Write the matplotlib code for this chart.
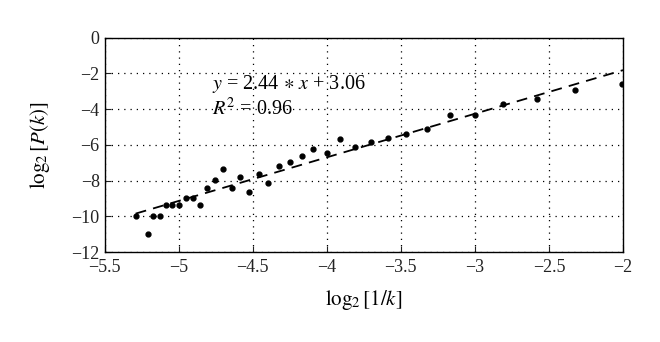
import matplotlib
matplotlib.use('Agg')
import numpy as np
import matplotlib.pyplot as plt

plt.rcParams['font.family'] = ['Liberation Serif', 'DejaVu Serif']
plt.rcParams['mathtext.fontset'] = 'stix'
plt.rcParams['font.size'] = 13

# points
x = [-5.288, -5.209, -5.171, -5.126, -5.086, -5.043, -4.998, -4.953, -4.906,
     -4.856, -4.807, -4.753, -4.699, -4.642, -4.586, -4.524, -4.460, -4.395,
     -4.321, -4.249, -4.168, -4.092, -4.001, -3.912, -3.810, -3.704, -3.586,
     -3.462, -3.322, -3.169, -3.001, -2.810, -2.584, -2.324, -2.004]
y = [-10.0, -10.98, -10.0, -10.0, -9.39, -9.39, -9.39, -8.97, -8.97,
     -9.37, -8.40, -7.95, -7.38, -8.40, -7.78, -8.64, -7.62, -8.16,
     -7.17, -6.95, -6.65, -6.26, -6.43, -5.66, -6.11, -5.83, -5.63,
     -5.40, -5.11, -4.31, -4.34, -3.69, -3.43, -2.95, -2.58]

slope = 2.44
intercept = 3.06
fit_x = [-5.29, -2.0]

fig = plt.figure(figsize=(6.6, 3.42), dpi=100)
ax = fig.add_axes([0.1585, 0.263, 0.7855, 0.627])

ax.plot(x, y, 'k.', markersize=7)
fx = np.array(fit_x)
ax.plot(fx, slope * fx + intercept, 'k--', linewidth=1.3, dashes=(6, 4))

ax.set_xlim(-5.5, -2)
ax.set_ylim(-12, 0)
ax.set_xticks([-5.5, -5, -4.5, -4, -3.5, -3, -2.5, -2])
ax.set_xticklabels(['\u22125.5', '\u22125', '\u22124.5', '\u22124', '\u22123.5', '\u22123', '\u22122.5', '\u22122'])
ax.set_yticks([0, -2, -4, -6, -8, -10, -12])
ax.set_yticklabels(['0', '\u22122', '\u22124', '\u22126', '\u22128', '\u221210', '\u221212'])
ax.grid(True, linestyle=(0, (1, 4)), color='black', linewidth=0.9)
ax.tick_params(direction='in', length=4, colors='#222222', labelsize=13)
ax.tick_params(axis='x', pad=5)
for s in ax.spines.values():
    s.set_linewidth(1.0)

ax.set_xlabel(r'$\log_2[1/k]$', fontsize=15, labelpad=9)
ax.set_ylabel(r'$\log_2[P(k)]$', fontsize=15, labelpad=14)

ax.text(-4.775, -2.6, r'$y$ = 2.44 $\ast$ $x$ + 3.06', fontsize=14.5, va='center', ha='left')
ax.text(-4.775, -4.0, r'$R^2$ = 0.96', fontsize=14.5, va='center', ha='left')

fig.savefig('out.png', dpi=100)
